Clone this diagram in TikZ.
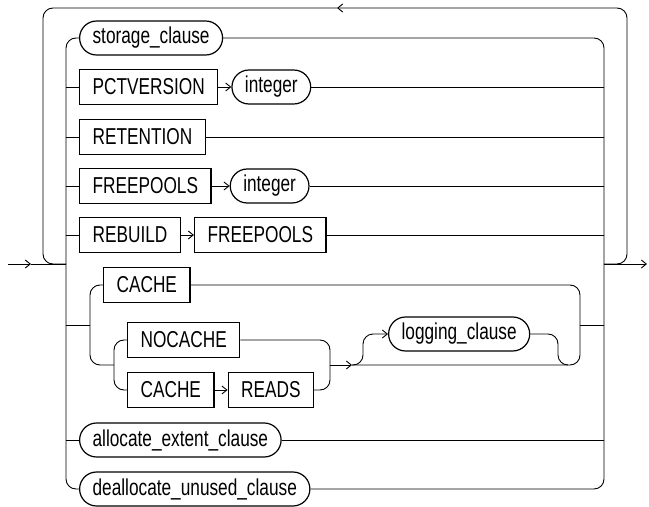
\documentclass[tikz,border=0pt]{standalone}
\usepackage{fontspec}
\setmainfont[FakeStretch=0.75]{Liberation Sans}
\usetikzlibrary{positioning,arrows.meta}

\tikzset{
  rail/.style={line width=0.9bp},
  kw/.style={draw, line width=1.2bp, rectangle, minimum height=35bp, inner xsep=13bp, font=\fontsize{23bp}{25bp}\selectfont},
  oval/.style={draw, line width=1.2bp, rounded corners=17bp, minimum height=34bp, inner xsep=13bp, font=\fontsize{23bp}{25bp}\selectfont}
}

\begin{document}
\begin{tikzpicture}[x=1bp, y=-1bp, >={Straight Barb[length=5bp,width=8bp]}, rail]
  \useasboundingbox (0,0) rectangle (649,507);

  % keywords and clauses
  \node[oval, anchor=west] (stor) at (79,38) {storage\_clause};
  \node[kw, anchor=west] (pctv) at (79,87) {PCTVERSION};
  \node[oval, right=13bp of pctv] (int1) {integer};
  \node[kw, anchor=west] (reten) at (79,137) {RETENTION};
  \node[kw, anchor=west] (free1) at (79,186) {FREEPOOLS};
  \node[oval, right=18bp of free1] (int2) {integer};
  \node[kw, anchor=west] (rebld) at (79,235) {REBUILD};
  \node[kw, right=13bp of rebld] (free2) {FREEPOOLS};
  \node[kw, anchor=west] (cache1) at (103,285) {CACHE};
  \node[kw, anchor=west] (nocache) at (127,340) {NOCACHE};
  \node[kw, anchor=west] (cache2) at (127,390) {CACHE};
  \node[kw, right=13bp of cache2] (reads) {READS};
  \node[oval, anchor=west] (logc) at (388,334) {logging\_clause};
  \node[oval, anchor=west] (alloc) at (79,440) {allocate\_extent\_clause};
  \node[oval, anchor=west] (dealloc) at (79,489) {deallocate\_unused\_clause};

  % junction points
  \coordinate (start) at (8,264);
  \coordinate (inArr) at (31,264);
  \coordinate (L) at (66,264);
  \coordinate (R) at (604,264);
  \coordinate (stop) at (647,264);
  \coordinate (lt) at (66,38);
  \coordinate (lb) at (66,489);
  \coordinate (rt) at (604,38);
  \coordinate (rb) at (604,489);
  \coordinate (lpR) at (627,264);
  \coordinate (lpRT) at (627,8);
  \coordinate (lpArr) at (337,8);
  \coordinate (lpLT) at (43,8);
  \coordinate (lpL) at (43,264);
  \coordinate (gL) at (90,325);
  \coordinate (gR) at (580,325);
  \coordinate (ib) at (114,365);
  \coordinate (ir) at (330,365);
  \coordinate (la) at (352,365);
  \coordinate (ls) at (363,365);
  \coordinate (lr) at (558,365);
  \coordinate (lm) at (568,365);

  % main line and repeat loop
  \draw[->] (start) -- (inArr);
  \draw (inArr) -- (L);
  \draw[->] (R) -- (stop);
  \draw[->, rounded corners=10bp] (R) -- (lpR) -- (lpRT) -- (lpArr);
  \draw[rounded corners=10bp] (lpArr) -- (lpLT) -- (lpL) -- (L);

  % outer choice
  \draw[rounded corners=10bp] (stor.west) -- (lt) -- (lb) -- (dealloc.west);
  \draw[rounded corners=10bp] (stor.east) -- (rt) -- (rb) -- (dealloc.east);
  \draw (lt |- pctv.west) -- (pctv.west);
  \draw[->] (pctv) -- (int1);
  \draw (int1.east) -- (rt |- int1.east);
  \draw (lt |- reten.west) -- (reten.west);
  \draw (reten.east) -- (rt |- reten.east);
  \draw (lt |- free1.west) -- (free1.west);
  \draw[->] (free1) -- (int2);
  \draw (int2.east) -- (rt |- int2.east);
  \draw (lt |- rebld.west) -- (rebld.west);
  \draw[->] (rebld) -- (free2);
  \draw (free2.east) -- (rt |- free2.east);
  \draw (lt |- alloc.west) -- (alloc.west);
  \draw (alloc.east) -- (rt |- alloc.east);

  % cache group
  \draw (L |- gL) -- (gL);
  \draw (gR) -- (R |- gR);
  \draw[rounded corners=10bp] (cache1.west) -- (gL |- cache1.west) -- (gL |- ib) -- (ib);
  \draw[rounded corners=10bp] (nocache.west) -- (ib |- nocache.west) -- (ib |- cache2.west) -- (cache2.west);
  \draw[rounded corners=10bp] (nocache.east) -- (ir |- nocache.east) -- (ir |- reads.east) -- (reads.east);
  \draw[->] (cache2) -- (reads);
  \draw[->] (ir) -- (la);
  \draw[rounded corners=10bp] (la) -- (gR |- la) -- (gR |- cache1.east) -- (cache1.east);

  % optional logging clause
  \draw[->, rounded corners=10bp] (la) -- (ls) -- (ls |- logc.west) -- (logc.west);
  \draw[rounded corners=10bp] (logc.east) -- (lr |- logc.east) -- (lr) -- (lm);
\end{tikzpicture}
\end{document}
